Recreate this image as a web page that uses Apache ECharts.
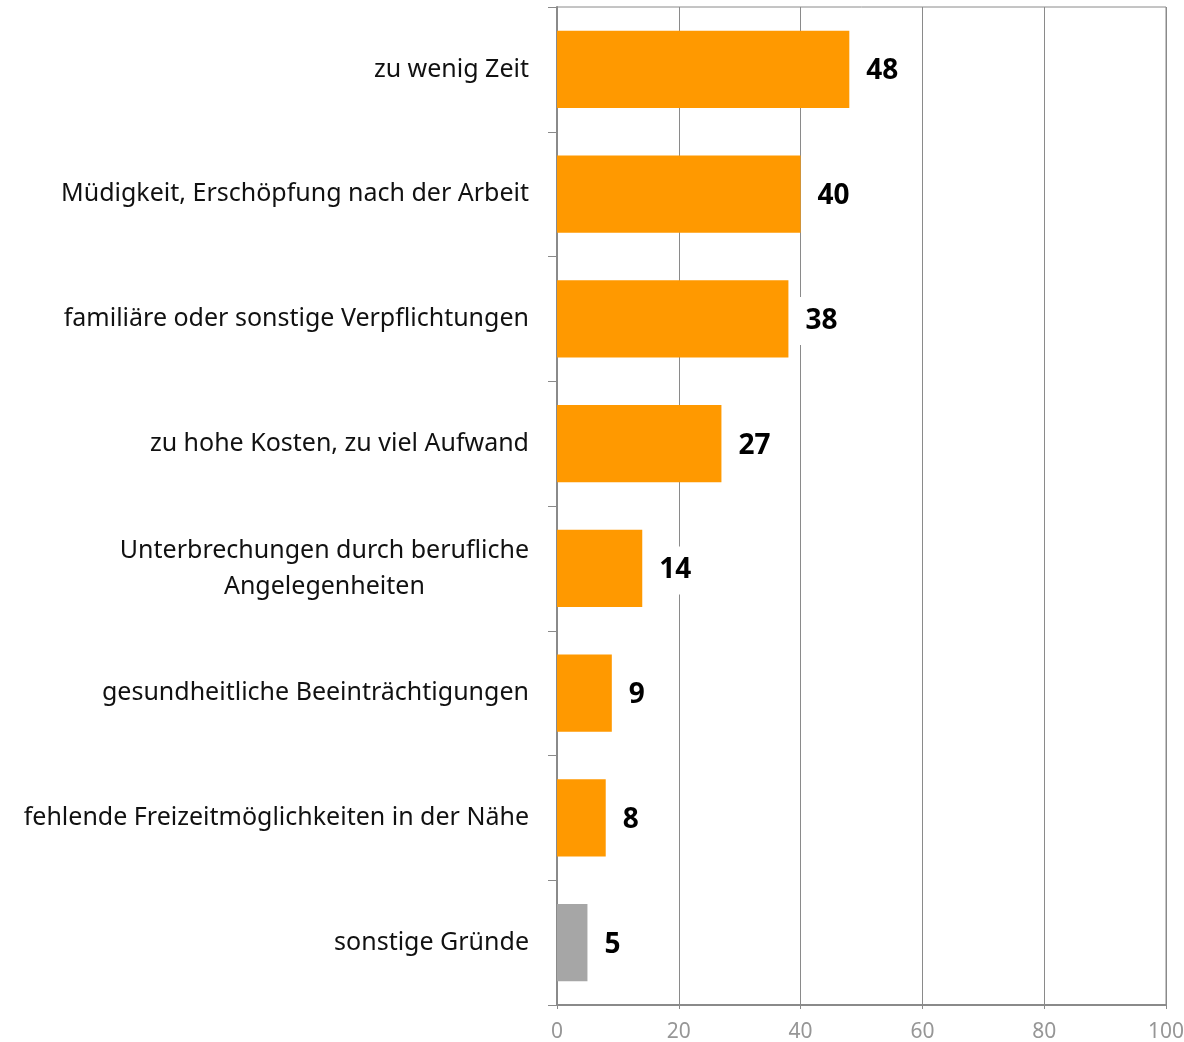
<!DOCTYPE html>
<html>
<head>
<meta charset="utf-8">
<script src="https://cdn.jsdelivr.net/npm/echarts@6/dist/echarts.min.js"></script>
<style>
  html, body { margin: 0; padding: 0; background: #fff; }
  #main { width: 1184px; height: 1042px; }
</style>
</head>
<body>
<div id="main"></div>
<script>
var categories = [
    'zu wenig Zeit',
    'Müdigkeit, Erschöpfung nach der Arbeit',
    'familiäre oder sonstige Verpflichtungen',
    'zu hohe Kosten, zu viel Aufwand',
    'Unterbrechungen durch berufliche\nAngelegenheiten',
    'gesundheitliche Beeinträchtigungen',
    'fehlende Freizeitmöglichkeiten in der Nähe',
    'sonstige Gründe'
];
var values = [48, 40, 38, 27, 14, 9, 8, 5];
var barColors = ['#ff9900', '#ff9900', '#ff9900', '#ff9900', '#ff9900', '#ff9900', '#ff9900', '#a6a6a6'];
var xTicks = [0, 20, 40, 60, 80, 100];

var chart = echarts.init(document.getElementById('main'), null, { renderer: 'canvas' });

var option = {
    animation: false,
    grid: {
        left: 557,
        right: 18,
        top: 7,
        bottom: 37,
        outerBoundsMode: 'none',
        show: true,
        borderColor: '#8a8a8a',
        borderWidth: 1
    },
    xAxis: {
        type: 'value',
        min: xTicks[0],
        max: xTicks[xTicks.length - 1],
        interval: 20,
        axisLine: { show: true, lineStyle: { color: '#8a8a8a', width: 2 } },
        axisTick: { show: true, length: 4, lineStyle: { color: '#8a8a8a' } },
        splitLine: { show: true, lineStyle: { color: '#8a8a8a', width: 1 } },
        axisLabel: {
            color: '#969696',
            fontFamily: 'Noto Sans',
            fontSize: 21,
            margin: 17
        }
    },
    yAxis: {
        type: 'category',
        data: categories,
        inverse: true,
        axisLine: { show: true, lineStyle: { color: '#8a8a8a', width: 2 } },
        axisTick: { show: true, length: 9, lineStyle: { color: '#8a8a8a' } },
        axisLabel: {
            margin: 28,
            color: '#111',
            fontFamily: 'Noto Sans',
            fontSize: 25,
            lineHeight: 36,
            formatter: function (v) { return '{c|' + v.split('\n').join('}\n{c|') + '}'; },
            rich: { c: { align: 'center', fontFamily: 'Noto Sans', fontSize: 25, lineHeight: 36, color: '#111' } }
        }
    },
    series: [{
        type: 'bar',
        barCategoryGap: '38%',
        data: values.map(function (v, i) {
            return { value: v, itemStyle: { color: barColors[i] } };
        }),
        label: {
            show: true,
            position: 'right',
            distance: 8,
            offset: [0, 2],
            color: '#000',
            fontFamily: 'Noto Sans',
            fontWeight: 'bold',
            fontSize: 28,
            backgroundColor: '#fff',
            padding: [10, 9]
        }
    }]
};

chart.setOption(option);
</script>
</body>
</html>
